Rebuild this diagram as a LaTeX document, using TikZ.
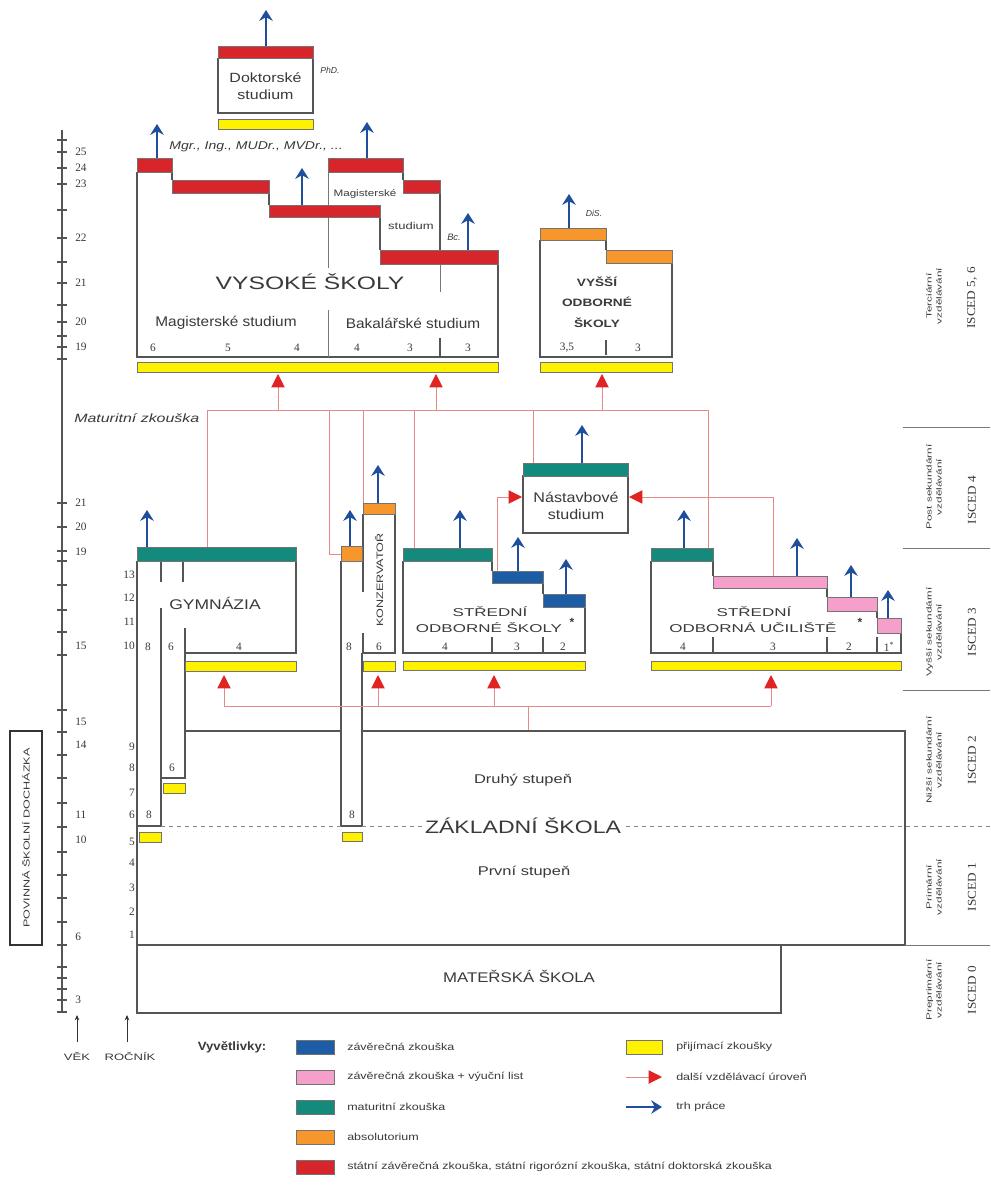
\documentclass[tikz,border=0pt]{standalone}
\usepackage{fontspec}
\setmainfont{Liberation Sans}
\newfontfamily\numfont{Liberation Serif}
\usetikzlibrary{arrows.meta}
\definecolor{bred}{HTML}{D7262B}
\definecolor{bteal}{HTML}{138A7B}
\definecolor{bblue}{HTML}{1C5DA6}
\definecolor{bpink}{HTML}{F4A0CB}
\definecolor{borange}{HTML}{F7962A}
\definecolor{byellow}{HTML}{FFF200}
\definecolor{ablue}{HTML}{1F4E9C}
\definecolor{lred}{HTML}{E58A86}
\definecolor{tred}{HTML}{E02424}
\definecolor{bgray}{HTML}{555555}
\definecolor{tgray}{HTML}{3A3A3A}
\newcommand{\widetxt}[2]{\scalebox{#1}[1]{#2}}
\newcommand{\cbx}[5]{\draw[cbar,fill=#5] (#1,#2) rectangle (#3,#4);}
\newcommand{\ybx}[4]{\draw[ybar] (#1,#2) rectangle (#3,#4);}
\begin{document}
\begin{tikzpicture}[x=0.75pt,y=-0.75pt,
  bx/.style={draw=bgray,line width=1.1pt},
  tline/.style={draw=bgray!80,line width=0.6pt},
  cbar/.style={draw=black!55,line width=0.5pt},
  ybar/.style={fill=byellow,draw=black!55,line width=0.7pt},
  barrow/.style={draw=ablue,line width=2.2pt,-{Stealth[length=8pt,width=10pt,inset=2.5pt]}},
  rline/.style={draw=lred,line width=0.7pt},
  rarrow/.style={draw=lred,line width=0.7pt,-{Triangle[length=10pt,width=10pt,color=tred]}},
  lbl/.style={inner sep=0pt,text=tgray},
  num/.style={inner sep=0pt,text=tgray,font=\numfont\fontsize{8.5}{10}\selectfont},
  leg/.style={inner sep=0pt,text=tgray,font=\fontsize{7.5}{8.5}\selectfont,anchor=west},
  isced/.style={inner sep=0pt,text=tgray,font=\numfont\fontsize{9}{10}\selectfont,rotate=90},
  iscsm/.style={inner sep=0pt,text=tgray,font=\fontsize{5.5}{7.5}\selectfont,rotate=90,align=center}
]
\useasboundingbox (0,0) rectangle (990,1186);
\fill[white] (0,0) rectangle (990,1186);

% ---------- doctoral ----------
\draw[bx] (218,58) -- (218,113) -- (313,113) -- (313,58);
\cbx{218}{46}{313}{58}{bred}
\ybx{218}{119}{313}{129}
\node[lbl,align=center,font=\fontsize{10}{13}\selectfont] (dok) at (265.5,86) {\widetxt{1.2}{Doktorské}\\\widetxt{1.2}{studium}};
\node[lbl,font=\itshape\fontsize{6.5}{8}\selectfont] (phd) at (330,70) {PhD.};
\draw[barrow] (266,46) -- (266,10);

% ---------- vysoke skoly ----------
\draw[bx] (137,172) -- (137,357) -- (498,357) -- (498,264);
\draw[bgray,line width=1.8pt] (137,357) -- (498,357);
\draw[bx] (172,172) -- (172,180);
\draw[bx] (269,193) -- (269,205);
\draw[bx] (380,217) -- (380,250);
\draw[bx] (403,172) -- (403,180);
\draw[bx] (440,193) -- (440,250);
\draw[tline] (328,172) -- (328,268);
\draw[tline] (328,310) -- (328,357);
\draw[tline] (440,264) -- (440,292);
\draw[bx] (440,338) -- (440,357);
\cbx{137}{158}{172}{172}{bred}
\cbx{172}{180}{269}{193}{bred}
\cbx{269}{205}{380}{217}{bred}
\cbx{328}{158}{403}{172}{bred}
\cbx{403}{180}{440}{193}{bred}
\cbx{380}{250}{498}{264}{bred}
\ybx{137}{362}{498}{372}
\node[lbl,font=\itshape\fontsize{8.5}{10}\selectfont] (tit) at (256,147) {\widetxt{1.24}{Mgr., Ing., MUDr., MVDr., ...}};
\node[lbl,font=\fontsize{7}{8}\selectfont] (mg1) at (365,194) {\widetxt{1.25}{Magisterské}};
\node[lbl,font=\fontsize{7.5}{8}\selectfont] (mg2) at (411,226) {\widetxt{1.3}{studium}};
\node[lbl,font=\itshape\fontsize{7}{8}\selectfont] (bc) at (454,237) {Bc.};
\node[lbl,font=\fontsize{13.5}{15}\selectfont] (vs) at (310,282) {\widetxt{1.37}{VYSOKÉ ŠKOLY}};
\node[lbl,font=\fontsize{10.5}{12}\selectfont] (mag) at (226,323) {\widetxt{1.1}{Magisterské studium}};
\node[lbl,font=\fontsize{10.5}{12}\selectfont] (bak) at (413,323) {\widetxt{1.1}{Bakalářské studium}};
\node[num] at (153,348) {6};
\node[num] at (228,348) {5};
\node[num] at (297,348) {4};
\node[num] at (357,348) {4};
\node[num] at (410,348) {3};
\node[num] at (468,348) {3};
\draw[barrow] (157,158) -- (157,124);
\draw[barrow] (302,205) -- (302,168);
\draw[barrow] (367,158) -- (367,122);
\draw[barrow] (468,250) -- (468,213);

% ---------- VOS ----------
\draw[bx] (540,240) -- (540,357) -- (672,357) -- (672,263);
\draw[bgray,line width=1.8pt] (540,357) -- (672,357);
\draw[bx] (606,240) -- (606,250);
\draw[bx] (606,340) -- (606,355);
\cbx{540}{228}{606}{240}{borange}
\cbx{606}{250}{672}{263}{borange}
\ybx{540}{362}{672}{372}
\draw[barrow] (569,228) -- (569,194);
\node[lbl,font=\itshape\fontsize{6.5}{8}\selectfont] (dis) at (594,213) {DiS.};
\node[lbl,font=\bfseries\fontsize{8}{9}\selectfont] (vos1) at (597,282) {\widetxt{1.28}{VYŠŠÍ}};
\node[lbl,font=\bfseries\fontsize{8}{9}\selectfont] (vos2) at (597,302) {\widetxt{1.28}{ODBORNÉ}};
\node[lbl,font=\bfseries\fontsize{8}{9}\selectfont] (vos3) at (597,323) {\widetxt{1.28}{ŠKOLY}};
\node[num] at (567,348) {3,5};
\node[num] at (638,348) {3};

% ---------- upper red connectors ----------
\node[lbl,anchor=west,font=\itshape\fontsize{9}{10}\selectfont] (mat) at (74,418) {\widetxt{1.33}{Maturitní zkouška}};
\draw[rline] (207,410) -- (708,410);
\draw[rline] (207,410) -- (207,547);
\draw[rarrow] (278,410) -- (278,374);
\draw[rarrow] (436,410) -- (436,374);
\draw[rarrow] (602,410) -- (602,374);
\draw[rline] (329,410) -- (329,554) -- (341,554);
\draw[rline] (363,410) -- (363,503);
\draw[rline] (414,410) -- (414,548);
\draw[rline] (533,410) -- (533,463);
\draw[rline] (708,410) -- (708,548);

% ---------- nastavbove ----------
\draw[bx] (523,476) rectangle (628,533);
\cbx{523}{463}{628}{476}{bteal}
\node[lbl,align=center,font=\fontsize{10.5}{13}\selectfont] (nas) at (576,506) {\widetxt{1.15}{Nástavbové}\\\widetxt{1.15}{studium}};
\draw[barrow] (582,463) -- (582,425);
\draw[rarrow] (497,571) -- (497,497) -- (522,497);
\draw[rarrow] (773,576) -- (773,497) -- (629,497);

% ---------- gymnazium ----------
\draw[bx] (137,561) -- (137,1013);
\draw[bx] (296,561) -- (296,653) -- (185,653);
\draw[bx] (161,561) -- (161,582);
\draw[bx] (183,561) -- (183,582);
\draw[bx] (161,608) -- (161,826) -- (137,826);
\draw[bx] (185,628) -- (185,778) -- (161,778);
\cbx{137}{547}{296}{561}{bteal}
\ybx{185}{661}{296}{671}
\ybx{163}{783}{185}{793}
\ybx{139}{832}{161}{842}
\draw[barrow] (147,547) -- (147,510);
\node[lbl,font=\fontsize{10.5}{12}\selectfont] (gym) at (215,603) {\widetxt{1.25}{GYMNÁZIA}};
\node[num] at (148,647) {8};
\node[num] at (171,647) {6};
\node[num] at (239,647) {4};
\node[num] at (172,768) {6};
\node[num] at (149,815) {8};

% ---------- konzervator ----------
\draw[bx] (341,561) -- (341,826) -- (362,826) -- (362,653);
\draw[bx] (363,514) -- (363,592);
\draw[bx] (363,633) -- (363,653) -- (395,653) -- (395,514);
\cbx{341}{546}{362}{561}{borange}
\cbx{363}{503}{395}{514}{borange}
\ybx{363}{661}{395}{671}
\ybx{342}{832}{362}{841}
\draw[barrow] (350,546) -- (350,510);
\draw[barrow] (378,503) -- (378,465);
\node[lbl,rotate=90,font=\fontsize{7}{8}\selectfont] (konz) at (379,580) {\widetxt{1.35}{KONZERVATOŘ}};
\node[num] at (349,647) {8};
\node[num] at (379,647) {6};
\node[num] at (352,815) {8};

% ---------- SOS ----------
\draw[bx] (403,561) -- (403,653) -- (585,653) -- (585,607);
\draw[bx] (492,561) -- (492,571);
\draw[bx] (543,583) -- (543,594);
\draw[bx] (492,637) -- (492,653);
\draw[bx] (543,637) -- (543,653);
\cbx{403}{548}{492}{561}{bteal}
\cbx{492}{571}{543}{583}{bblue}
\cbx{543}{594}{585}{607}{bblue}
\ybx{403}{661}{585}{670}
\node[lbl,font=\fontsize{8.5}{9}\selectfont] (sos1) at (490,612) {\widetxt{1.5}{STŘEDNÍ}};
\node[lbl,font=\fontsize{8.5}{9}\selectfont] (sos2) at (489,628) {\widetxt{1.5}{ODBORNÉ ŠKOLY}};
\node[lbl,font=\bfseries\fontsize{9}{10}\selectfont] (sosst) at (572,622) {*};
\node[num] at (445,647) {4};
\node[num] at (517,647) {3};
\node[num] at (563,647) {2};
\draw[barrow] (460,548) -- (460,510);
\draw[barrow] (518,571) -- (518,537);
\draw[barrow] (566,594) -- (566,559);

% ---------- SOU ----------
\draw[bx] (651,561) -- (651,653) -- (901,653) -- (901,633);
\draw[bx] (713,561) -- (713,576);
\draw[bx] (827,588) -- (827,597);
\draw[bx] (877,611) -- (877,618);
\draw[bx] (713,637) -- (713,653);
\draw[bx] (827,637) -- (827,653);
\draw[bx] (877,637) -- (877,653);
\cbx{651}{548}{713}{561}{bteal}
\cbx{713}{576}{827}{588}{bpink}
\cbx{827}{597}{877}{611}{bpink}
\cbx{877}{618}{901}{633}{bpink}
\ybx{651}{661}{901}{670}
\node[lbl,font=\fontsize{8.5}{9}\selectfont] (sou1) at (754,612) {\widetxt{1.5}{STŘEDNÍ}};
\node[lbl,font=\fontsize{8.5}{9}\selectfont] (sou2) at (753,628) {\widetxt{1.5}{ODBORNÁ UČILIŠTĚ}};
\node[lbl,font=\bfseries\fontsize{9}{10}\selectfont] (soust) at (860,622) {*};
\node[num] at (683,647) {4};
\node[num] at (773,647) {3};
\node[num] at (849,647) {2};
\node[num] at (889,647) {1\textsuperscript{*}};
\draw[barrow] (684,548) -- (684,510);
\draw[barrow] (797,576) -- (797,538);
\draw[barrow] (851,597) -- (851,565);
\draw[barrow] (888,618) -- (888,590);

% ---------- lower red connectors ----------
\draw[rline] (224,706) -- (771,706);
\draw[rline] (528,706) -- (528,731);
\draw[rarrow] (224,706) -- (224,675);
\draw[rarrow] (378,706) -- (378,675);
\draw[rarrow] (494,706) -- (494,675);
\draw[rarrow] (771,706) -- (771,675);

% ---------- zakladni skola ----------
\draw[bx] (185,731) -- (341,731);
\draw[bx] (362,731) -- (905,731) -- (905,945) -- (137,945);
\draw[bgray!70,dashed,line width=0.6pt] (161,826) -- (341,826);
\draw[bgray!70,dashed,line width=0.6pt] (362,826) -- (990,826);
\node[lbl,font=\fontsize{9.5}{10}\selectfont] (druhy) at (523,780) {\widetxt{1.3}{Druhý stupeň}};
\node[lbl,font=\fontsize{9.5}{10}\selectfont] (prvni) at (524,872) {\widetxt{1.3}{První stupeň}};
\node[lbl,fill=white,inner sep=2pt,font=\fontsize{13.5}{15}\selectfont] (zs) at (523,826) {\widetxt{1.28}{ZÁKLADNÍ ŠKOLA}};

% ---------- materska ----------
\draw[bx] (137,945) -- (137,1013) -- (781,1013) -- (781,945);
\node[lbl,font=\fontsize{10.5}{12}\selectfont] (ms) at (519,976) {\widetxt{1.2}{MATEŘSKÁ ŠKOLA}};

% ---------- ISCED ----------
\draw[tline] (903,427) -- (990,427);
\draw[tline] (903,548) -- (990,548);
\draw[tline] (903,690) -- (990,690);
\draw[tline] (905,945) -- (990,945);
\node[iscsm] (i56a) at (934,296) {\widetxt{1.6}{Terciární}\\\widetxt{1.6}{vzdělávání}};
\node[isced] (i56) at (972,298) {\widetxt{1.1}{ISCED 5, 6}};
\node[iscsm] (i4a) at (934,487) {\widetxt{1.6}{Post sekundární}\\\widetxt{1.6}{vzdělávání}};
\node[isced] (i4) at (972,500) {\widetxt{1.1}{ISCED 4}};
\node[iscsm] (i3a) at (934,632) {\widetxt{1.6}{Vyšší sekundární}\\\widetxt{1.6}{vzdělávání}};
\node[isced] (i3) at (972,632) {\widetxt{1.1}{ISCED 3}};
\node[iscsm] (i2a) at (934,760) {\widetxt{1.6}{Nižší sekundární}\\\widetxt{1.6}{vzdělávání}};
\node[isced] (i2) at (972,760) {\widetxt{1.1}{ISCED 2}};
\node[iscsm] (i1a) at (934,887) {\widetxt{1.6}{Primární}\\\widetxt{1.6}{vzdělávání}};
\node[isced] (i1) at (972,887) {\widetxt{1.1}{ISCED 1}};
\node[iscsm] (i0a) at (934,990) {\widetxt{1.6}{Preprimární}\\\widetxt{1.6}{vzdělávání}};
\node[isced] (i0) at (972,990) {\widetxt{1.1}{ISCED 0}};

% ---------- axes ----------
\draw[bgray,line width=0.8pt] (62,130) -- (62,1012);
\foreach \yy in {140,152,168,184,210,238,262,283,305,322,336,347,359,
                 503,527,551,561,585,610,632,655,
                 710,732,755,778,803,827,852,875,898,922,945,967,978,989,1000,1012}
  \draw[bgray,line width=0.9pt] (57,\yy) -- (67,\yy);
\foreach \yy/\tt in {152/25,168/24,184/23,238/22,283/21,322/20,347/19,
                     503/21,527/20,552/19,646/15,
                     722/15,745/14,815/11,840/10,937/6,1000/3}
  \node[num,anchor=west] at (75,\yy) {\tt};
\foreach \yy/\tt in {575/13,598/12,622/11,646/10,
                     747/9,768/8,793/7,815/6,842/5,863/4,888/3,912/2,935/1}
  \node[num,anchor=east] at (135,\yy) {\tt};
\draw[black!80,line width=0.6pt,-{Stealth[length=4pt,width=3.5pt]}] (77,1042) -- (77,1015);
\draw[black!80,line width=0.6pt,-{Stealth[length=4pt,width=3.5pt]}] (127,1042) -- (127,1015);
\node[lbl,font=\fontsize{7}{8}\selectfont] (vek) at (77,1056) {\widetxt{1.4}{VĚK}};
\node[lbl,font=\fontsize{7}{8}\selectfont] (roc) at (130,1056) {\widetxt{1.4}{ROČNÍK}};
\draw[black!80,line width=0.8pt] (10,731) rectangle (42,945);
\node[lbl,rotate=90,font=\fontsize{6.5}{7}\selectfont] (pov) at (26,838) {\widetxt{1.45}{POVINNÁ ŠKOLNÍ DOCHÁZKA}};

% ---------- legend ----------
\node[lbl,font=\bfseries\fontsize{9}{10}\selectfont] (vyv) at (232,1047) {\widetxt{1.1}{Vyvětlivky:}};
\cbx{296}{1040}{334}{1054}{bblue}
\cbx{296}{1070}{334}{1084}{bpink}
\cbx{296}{1100}{334}{1114}{bteal}
\cbx{296}{1130}{334}{1144}{borange}
\cbx{296}{1160}{334}{1174}{bred}
\node[leg] at (347,1047) {\widetxt{1.25}{závěrečná zkouška}};
\node[leg] at (347,1077) {\widetxt{1.25}{závěrečná zkouška + výuční list}};
\node[leg] at (347,1107) {\widetxt{1.25}{maturitní zkouška}};
\node[leg] at (347,1137) {\widetxt{1.25}{absolutorium}};
\node[leg] at (347,1167) {\widetxt{1.25}{státní závěrečná zkouška, státní rigorózní zkouška, státní doktorská zkouška}};
\ybx{626}{1040}{662}{1054}
\draw[rarrow] (626,1077) -- (662,1077);
\draw[barrow] (626,1107) -- (662,1107);
\node[leg] at (676,1047) {\widetxt{1.25}{přijímací zkoušky}};
\node[leg] at (676,1077) {\widetxt{1.25}{další vzdělávací úroveň}};
\node[leg] at (676,1107) {\widetxt{1.25}{trh práce}};
\end{tikzpicture}
\end{document}
